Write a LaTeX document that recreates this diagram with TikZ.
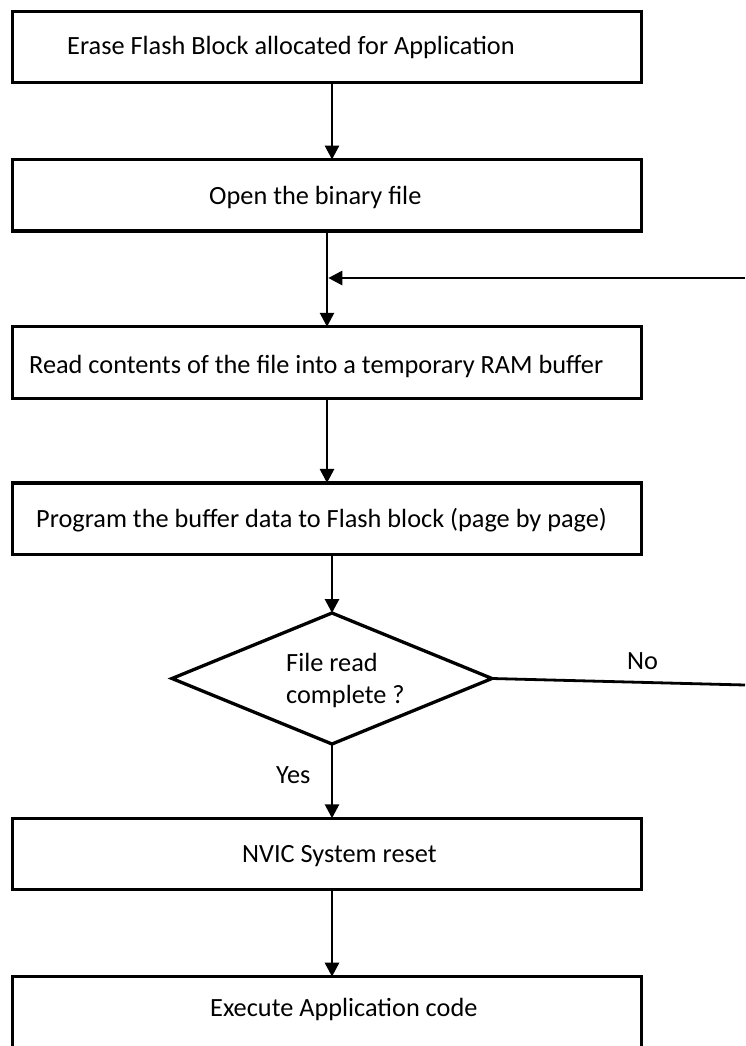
\documentclass[tikz,border=0pt]{standalone}
\usepackage{fontspec}
\setmainfont{Carlito}
\usetikzlibrary{arrows.meta,shapes.geometric,calc}
\begin{document}
\begin{tikzpicture}[x=1pt,y=-1pt,
  box/.style={draw, line width=3.3pt, rectangle, minimum width=628.5pt,
              minimum height=71.5pt, inner sep=0pt, outer sep=0pt},
  decision/.style={draw, line width=3.3pt, diamond, minimum width=320pt,
                   minimum height=131pt, inner sep=0pt, outer sep=0pt},
  txt/.style={inner sep=0pt, anchor=base west, font=\fontsize{26.3}{32}\selectfont},
  arr/.style={line width=2.8pt, -{Triangle[length=14pt,width=14pt]}},
  plain/.style={line width=2.8pt}
]
\clip (0,0) rectangle (745,1046);
\useasboundingbox (0,0) rectangle (745,1046);

% process steps and the decision
\node[box] (b1) at (327,47) {};
\node[box] (b2) at (327,195.3) {};
\node[box] (b3) at (327,362.5) {};
\node[box] (b4) at (327,518.7) {};
\node[decision] (d) at (332,678.5) {};
\node[box] (b5) at (327,854) {};
\node[box] (b6) at (327,1012.4) {};

% step texts
\node[txt] (t1) at (67,55) {Erase Flash Block allocated for Application};
\node[txt] (t2) at (209,204) {Open the binary file};
\node[txt] (t3) at (29,373.3) {Read contents of the file into a temporary RAM buffer};
\node[txt] (t4) at (36,527) {Program the buffer data to Flash block (page by page)};
\node[txt] (q1) at (286,671) {File read};
\node[txt] (q2) at (286,703) {complete ?};
\node[txt] (t5) at (242,862.7) {NVIC System reset};
\node[txt] (t6) at (210,1016.7) {Execute Application code};

% branch labels
\node[txt] (yes) at (276,783) {Yes};
\node[txt] (no) at (627,669) {No};

% connectors
\draw[arr] (d.north |- b1.south) -- (d.north |- b2.north);
\draw[arr] (b2.south) -- (b3.north);
\draw[arr] (b3.south) -- (b4.north);
\draw[arr] (d.north |- b4.south) -- (d.north);
\draw[arr] (d.south) -- (d.south |- b5.north);
\draw[arr] (d.south |- b5.south) -- (d.south |- b6.north);

% loop back for the "No" branch
\coordinate (noend) at (745,685);
\coordinate (ret) at (745,278);
\coordinate (join) at (328.3,278);
\draw[plain] (d.east) -- (noend);
\draw[arr] (ret) -- (join);
\end{tikzpicture}
\end{document}
